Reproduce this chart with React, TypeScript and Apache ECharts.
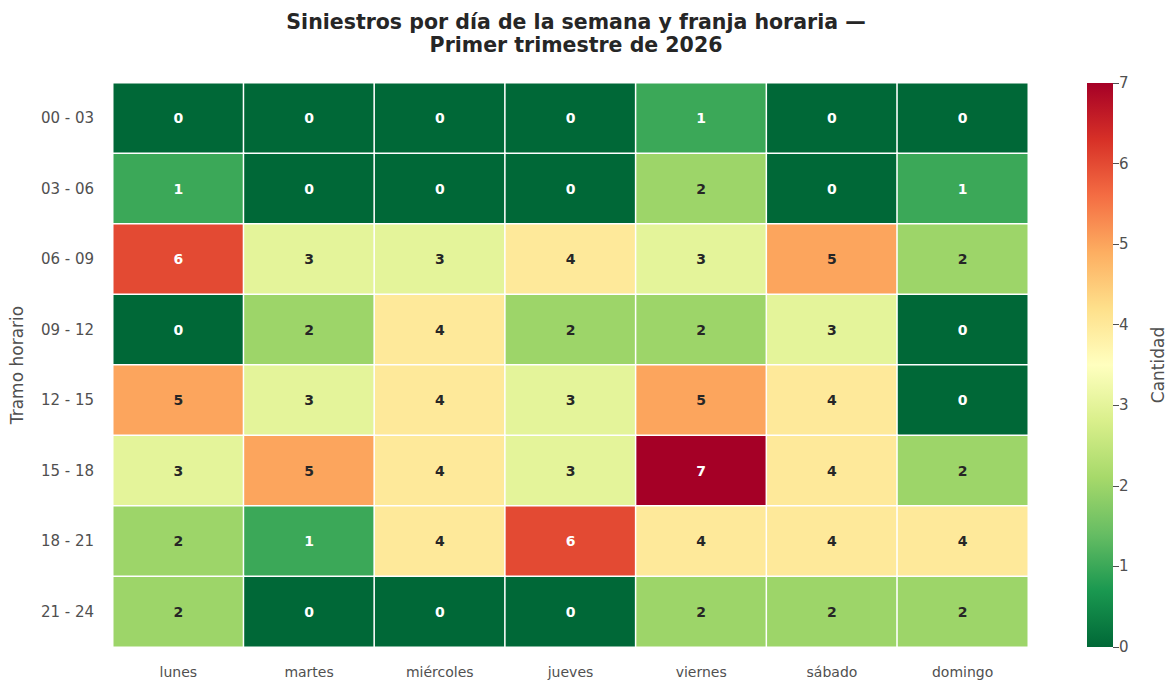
import React, { useEffect, useRef } from "react";
import * as echarts from "echarts";

// Days of the week (columns) and time slots (rows)
const days = ["lunes", "martes", "miércoles", "jueves", "viernes", "sábado", "domingo"];
const slots = ["00 - 03", "03 - 06", "06 - 09", "09 - 12", "12 - 15", "15 - 18", "18 - 21", "21 - 24"];

// Incident counts per slot (row) and day (column)
const counts: number[][] = [
  [0, 0, 0, 0, 1, 0, 0],
  [1, 0, 0, 0, 2, 0, 1],
  [6, 3, 3, 4, 3, 5, 2],
  [0, 2, 4, 2, 2, 3, 0],
  [5, 3, 4, 3, 5, 4, 0],
  [3, 5, 4, 3, 7, 4, 2],
  [2, 1, 4, 6, 4, 4, 4],
  [2, 0, 0, 0, 2, 2, 2],
];

// Colour scale bounds and its tick values
const scaleMin = 0;
const scaleMax = 7;
const scaleTicks = [0, 1, 2, 3, 4, 5, 6, 7];

// Reversed red-yellow-green palette
const palette = [
  "#006837", "#1a9850", "#66bd63", "#a6d96a", "#d9ef8b", "#ffffbf",
  "#fee08b", "#fdae61", "#f46d43", "#d73027", "#a50026",
];

const FONT = "DejaVu Sans, Liberation Sans, sans-serif";
const TICK_COLOR = "#505050";

export default function App() {
  const ref = useRef<HTMLDivElement>(null);

  useEffect(() => {
    if (!ref.current) return;
    const chart = echarts.init(ref.current, undefined, { renderer: "svg" });

    const cells: any[] = [];
    counts.forEach((row, r) =>
      row.forEach((v, c) => {
        const dark = v <= 1 || v >= 6;
        cells.push({
          value: [c, r, v],
          label: { color: dark ? "#ffffff" : "#262626" },
        });
      })
    );

    const barStops = palette.map((color, i) => ({ offset: i / (palette.length - 1), color }));

    chart.setOption({
      animation: false,
      backgroundColor: "#ffffff",
      textStyle: { fontFamily: FONT },
      title: {
        text: "Siniestros por día de la semana y franja horaria —\nPrimer trimestre de 2026",
        left: 571,
        top: 5,
        textAlign: "center",
        textStyle: {
          fontFamily: FONT,
          fontSize: 20.5,
          fontWeight: "bold",
          lineHeight: 23,
          color: "#262626",
        },
      },
      grid: [
        { left: 113, top: 83, width: 915, height: 564 },
        {
          left: 1087,
          top: 83,
          width: 28,
          height: 564,
          show: true,
          borderWidth: 0,
          backgroundColor: new echarts.graphic.LinearGradient(0, 1, 0, 0, barStops),
        },
      ],
      xAxis: [
        {
          type: "category",
          data: days,
          gridIndex: 0,
          position: "bottom",
          axisLine: { show: false },
          axisTick: { show: false },
          splitLine: { show: false },
          axisLabel: { color: TICK_COLOR, fontSize: 14, margin: 18, fontFamily: FONT },
        },
        {
          type: "value",
          gridIndex: 1,
          show: false,
          min: 0,
          max: 1,
        },
      ],
      yAxis: [
        {
          type: "category",
          data: slots,
          gridIndex: 0,
          inverse: true,
          name: "Tramo horario",
          nameLocation: "middle",
          nameRotate: 90,
          nameGap: 88,
          nameTextStyle: { color: TICK_COLOR, fontSize: 17, fontFamily: FONT },
          axisLine: { show: false },
          axisTick: { show: false },
          splitLine: { show: false },
          axisLabel: { color: TICK_COLOR, fontSize: 15, margin: 19, fontFamily: FONT },
        },
        {
          type: "value",
          gridIndex: 1,
          position: "right",
          min: scaleMin,
          max: scaleMax,
          interval: 1,
          name: "Cantidad",
          nameLocation: "middle",
          nameRotate: 90,
          nameGap: 36,
          nameTextStyle: { color: TICK_COLOR, fontSize: 17, fontFamily: FONT },
          axisLine: { show: false, onZero: false },
          axisTick: { show: true, inside: false, length: 6, lineStyle: { color: TICK_COLOR, width: 1 } },
          splitLine: { show: false },
          axisLabel: {
            color: TICK_COLOR,
            fontSize: 15,
            margin: 6,
            fontFamily: FONT,
            formatter: (v: number) => (scaleTicks.includes(v) ? String(v) : ""),
          },
        },
      ],
      visualMap: {
        show: false,
        type: "continuous",
        seriesIndex: 0,
        dimension: 2,
        min: scaleMin,
        max: scaleMax,
        inRange: { color: palette },
      },
      series: [
        {
          type: "heatmap",
          xAxisIndex: 0,
          yAxisIndex: 0,
          data: cells,
          itemStyle: { borderColor: "#ffffff", borderWidth: 1.5 },
          label: {
            show: true,
            fontSize: 14,
            fontWeight: "bold",
            fontFamily: FONT,
            formatter: (p: any) => String(p.value[2]),
          },
          emphasis: { disabled: true },
        },
      ],
    });

    return () => chart.dispose();
  }, []);

  return (
    <div
      ref={ref}
      style={{ position: "fixed", left: 0, top: 0, width: 1167, height: 683 }}
    />
  );
}
